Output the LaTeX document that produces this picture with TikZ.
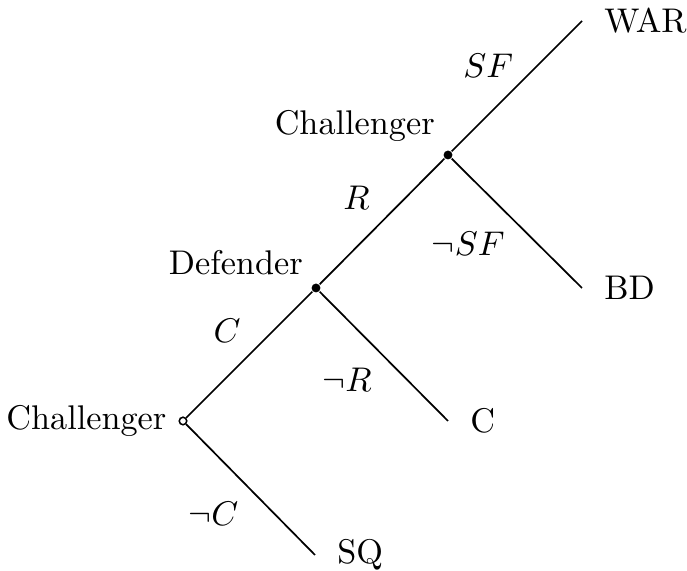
\documentclass[tikz,border=0pt]{standalone}
\usepackage{amssymb}
\begin{document}
\begin{tikzpicture}[x=.292pt,y=-.292pt,
  decision/.style={circle,fill=black,inner sep=0pt,minimum size=2.6pt},
  start/.style={circle,draw=black,fill=white,line width=0.45pt,inner sep=0pt,minimum size=2.2pt},
  outcome/.style={inner sep=0pt,minimum size=0pt,outer sep=0pt},
  branch/.style={draw=black,line width=0.5pt}]
\path[use as bounding box] (0,0) rectangle (687,571);
% players
\node[start,label=left:Challenger] (root) at (183,421) {};
\node[decision,label={[label distance=-1pt]above left:Defender}] (def) at (316,288) {};
\node[decision,label={[label distance=-1pt]above left:Challenger}] (chal) at (448,155) {};
% outcomes
\node[outcome,label={[label distance=3pt]right:WAR}] (war) at (582,21) {};
\node[outcome,label={[label distance=3pt]right:BD}] (bd) at (582,288) {};
\node[outcome,label={[label distance=3pt]right:C}] (conc) at (448,421) {};
\node[outcome,label={[label distance=3pt]right:SQ}] (sq) at (315,555) {};
% moves
\path[branch] (root) -- node[above left,xshift=1pt] {$C$} (def);
\path[branch] (root) -- node[below left] {$\neg C$} (sq);
\path[branch] (def) -- node[above left] {$R$} (chal);
\path[branch] (def) -- node[below left] {$\neg R$} (conc);
\path[branch] (chal) -- node[above left,xshift=2.5pt,yshift=-1pt] {$SF$} (war);
\path[branch] (chal) -- node[below left,yshift=1pt] {$\neg SF$} (bd);
\end{tikzpicture}
\end{document}
